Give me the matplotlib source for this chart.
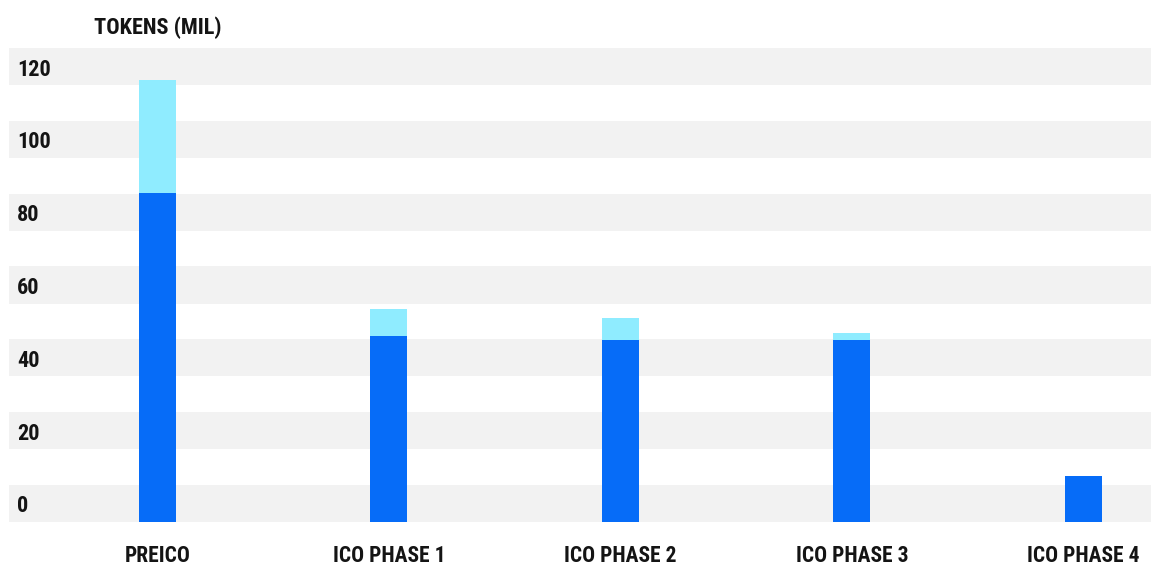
import matplotlib as mpl
import matplotlib.pyplot as plt
import numpy as np

# token allocation per sale phase (millions)
phases = ['PREICO', 'ICO PHASE 1', 'ICO PHASE 2', 'ICO PHASE 3', 'ICO PHASE 4']
sold = [90.5, 51, 50, 50, 12.7]
bonus = [31, 7.4, 6, 2, 0]
ytick_vals = [0, 20, 40, 60, 80, 100, 120]

mpl.rcParams['font.family'] = ['DejaVu Sans Condensed', 'Roboto Condensed', 'DejaVu Sans']
mpl.rcParams['font.stretch'] = 'condensed'
mpl.rcParams['font.weight'] = 'bold'
txt = '#141414'

px = 3.64  # pixels per unit on the value axis
fig = plt.figure(figsize=(11.51, 5.67), dpi=100)
ax = fig.add_axes([9 / 1151, 1 - 522 / 567, 1 - 9 / 1151, 131 * px / 567])

# grey stripes behind the bars, one per label
for v in ytick_vals:
    ax.axhspan(v, v + 10.2, color='#f2f2f2', zorder=0, lw=0)
    ax.text(0.007, v + 4.3, str(v), transform=ax.get_yaxis_transform(),
            ha='left', va='center', fontsize=16, color=txt)

x = np.arange(len(phases))
ax.bar(x, sold, width=0.16, color='#066cf8', zorder=2)
ax.bar(x, bonus, width=0.16, bottom=sold, color='#8fecff', zorder=2)

ax.set_xlim(-0.642, 4.293)
ax.set_ylim(0, 131)
ax.set_yticks([])
ax.set_xticks(x)
ax.set_xticklabels(phases, fontsize=15.5, color=txt)
ax.tick_params(axis='x', length=0, pad=16.5)
for s in ax.spines.values():
    s.set_visible(False)

fig.text(158 / 1151, 1 - 28 / 567, 'TOKENS (MIL)', ha='center', va='center',
         fontsize=16, color=txt)

plt.savefig('out.png', dpi=100)
